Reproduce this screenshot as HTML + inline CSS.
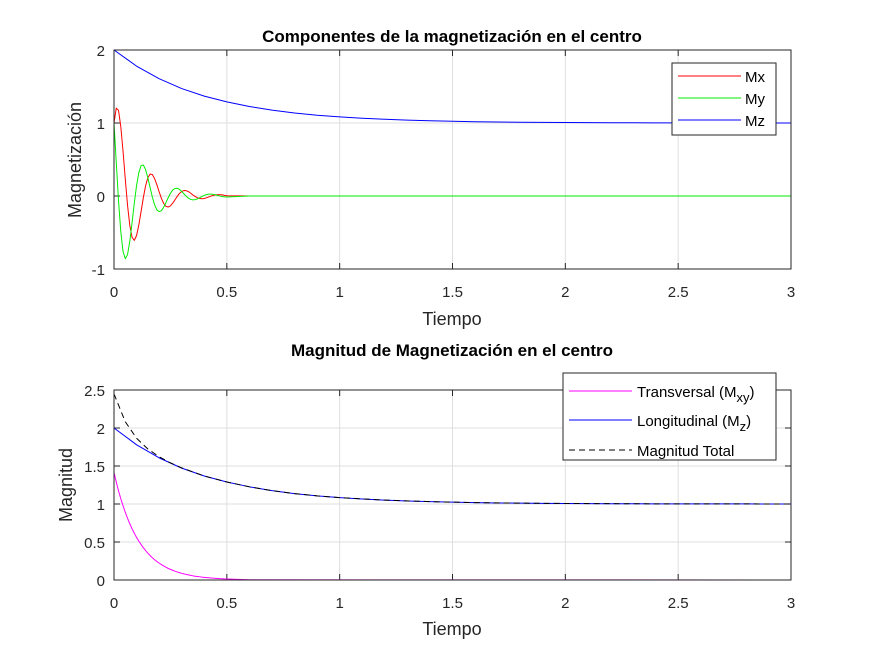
<!DOCTYPE html>
<html><head><meta charset="utf-8"><style>
body{margin:0;background:#fff;}
svg{font-family:"Liberation Sans",Arial,sans-serif;}
</style></head><body>
<svg id="fig" width="875" height="656" viewBox="0 0 875 656" xmlns="http://www.w3.org/2000/svg"></svg>
<script>
// ---- data ----
const tFine = [0,0.01,0.02,0.03,0.04,0.05,0.06,0.07,0.08,0.09,0.10,0.11,0.12,0.13,0.14,0.15,0.16,0.17,0.18,0.19,0.20,0.21,0.22,0.23,0.24,0.25,0.26,0.27,0.28,0.29,0.30,0.31,0.32,0.33,0.34,0.35,0.36,0.37,0.38,0.39,0.40,0.41,0.42,0.43,0.44,0.45,0.46,0.47,0.48,0.49,0.50,0.6,3];
const mxVals = [1.0,1.204,1.174,0.954,0.615,0.231,-0.127,-0.403,-0.566,-0.608,-0.541,-0.397,-0.212,-0.022,0.139,0.250,0.301,0.293,0.238,0.153,0.058,-0.032,-0.101,-0.141,-0.151,-0.135,-0.099,-0.053,-0.006,0.035,0.062,0.075,0.073,0.060,0.038,0.014,-0.008,-0.025,-0.035,-0.038,-0.034,-0.025,-0.013,-0.001,0.009,0.016,0.019,0.018,0.015,0.009,0.004,0,0];
const myVals = [1.0,0.462,-0.061,-0.486,-0.759,-0.860,-0.802,-0.621,-0.367,-0.096,0.145,0.321,0.415,0.425,0.361,0.250,0.115,-0.015,-0.121,-0.190,-0.214,-0.201,-0.155,-0.092,-0.024,0.036,0.081,0.103,0.106,0.091,0.062,0.029,-0.004,-0.030,-0.047,-0.053,-0.049,-0.039,-0.023,-0.006,0.009,0.020,0.026,0.026,0.022,0.016,0.007,-0.001,-0.008,-0.012,-0.014,0,0];
const mxyVals = [1.414,1.289,1.175,1.071,0.977,0.890,0.812,0.740,0.674,0.615,0.560,0.511,0.466,0.425,0.387,0.353,0.322,0.293,0.267,0.244,0.222,0.203,0.185,0.168,0.153,0.140,0.128,0.116,0.106,0.097,0.088,0.080,0.073,0.067,0.061,0.055,0.050,0.046,0.042,0.038,0.035,0.032,0.029,0.026,0.024,0.022,0.020,0.018,0.017,0.015,0.014,0.003,0];
const tMz = [0,0.1,0.2,0.3,0.4,0.5,0.6,0.7,0.8,0.9,1.0,1.1,1.2,1.3,1.4,1.5,1.6,1.7,1.8,1.9,2.0,2.2,2.4,2.6,2.8,3.0];
const mzVals = [2,1.779,1.607,1.472,1.368,1.290,1.226,1.176,1.137,1.107,1.084,1.065,1.051,1.040,1.031,1.024,1.018,1.014,1.011,1.009,1.007,1.004,1.002,1.001,1.001,1.0];
const tTot = [0,0.05,0.1,0.15,0.2,0.25,0.3,0.4,0.5,0.6,0.7,0.8,0.9,1.0,1.2,1.4,1.6,1.8,2.0,2.4,2.8,3.0];
const totVals = [2.449,2.082,1.865,1.724,1.622,1.541,1.475,1.368,1.290,1.226,1.176,1.137,1.107,1.084,1.051,1.031,1.018,1.011,1.007,1.002,1.001,1.0];
const xTicks = [0,0.5,1,1.5,2,2.5,3];
const xTickLabels = ["0","0.5","1","1.5","2","2.5","3"];
const yTicksTop = [-1,0,1,2];
const yTickLabelsTop = ["-1","0","1","2"];
const yTicksBot = [0,0.5,1,1.5,2,2.5];
const yTickLabelsBot = ["0","0.5","1","1.5","2","2.5"];

const NS="http://www.w3.org/2000/svg";
const svg=document.getElementById('fig');
function mk(tag,attrs,parent){const e=document.createElementNS(NS,tag);for(const k in attrs)e.setAttribute(k,attrs[k]);(parent||svg).appendChild(e);return e;}

function axes(box,xmin,xmax,ymin,ymax,yt,ytl,name){
  const g=mk('g',{});
  
  
  const sx=v=>box.x0+(v-xmin)/(xmax-xmin)*(box.x1-box.x0);
  const sy=v=>box.y1-(v-ymin)/(ymax-ymin)*(box.y1-box.y0);
  mk('rect',{x:box.x0,y:box.y0,width:box.x1-box.x0,height:box.y1-box.y0,fill:'#fff'},g);
  xTicks.forEach((v,i)=>{
    const x=sx(v);
    const gl=mk('line',{x1:x,x2:x,y1:box.y0,y2:box.y1,stroke:'#dfdfdf','stroke-width':1},g);
    
    
    mk('line',{x1:x,x2:x,y1:box.y1,y2:box.y1-6,stroke:'#262626'},g);
    mk('line',{x1:x,x2:x,y1:box.y0,y2:box.y0+6,stroke:'#262626'},g);
    const t=mk('text',{x:x,y:box.y1+28,'text-anchor':'middle','font-size':15,fill:'#262626'},g);
    t.textContent=xTickLabels[i];
    
    
  });
  yt.forEach((v,i)=>{
    const y=sy(v);
    const gl=mk('line',{x1:box.x0,x2:box.x1,y1:y,y2:y,stroke:'#dfdfdf','stroke-width':1},g);
    
    
    mk('line',{x1:box.x0,x2:box.x0+6,y1:y,y2:y,stroke:'#262626'},g);
    mk('line',{x1:box.x1,x2:box.x1-6,y1:y,y2:y,stroke:'#262626'},g);
    const t=mk('text',{x:box.x0-9,y:y+6,'text-anchor':'end','font-size':15,fill:'#262626'},g);
    t.textContent=ytl[i];
    
    
  });
  return {g,sx,sy};
}
function series(ax,xs,ys,color,name,dash){
  let d='';
  xs.forEach((x,i)=>{d+=(i?'L':'M')+ax.sx(x).toFixed(2)+','+ax.sy(ys[i]).toFixed(2);});
  const p=mk('path',{d:d,fill:'none',stroke:color,'stroke-width':1,'stroke-linejoin':'round'},ax.g);
  if(dash)p.setAttribute('stroke-dasharray',dash);
  
  
}
function frame(box,g){mk('rect',{x:box.x0,y:box.y0,width:box.x1-box.x0,height:box.y1-box.y0,fill:'none',stroke:'#262626','stroke-width':1},g);}
function text(x,y,s,attrs,name){const t=mk('text',Object.assign({x:x,y:y,fill:'#000'},attrs));t.textContent=s;
  
  return t;}

// ---- top ----
const b1={x0:114,x1:791,y0:50,y1:269};
const a1=axes(b1,0,3,-1,2,yTicksTop,yTickLabelsTop,'top-axes');
series(a1,tMz,mzVals,'#0000ff','mz-line');
series(a1,tFine,mxVals,'#ff0000','mx-line');
series(a1,tFine,myVals,'#00ee00','my-line');
frame(b1,a1.g);
text(452,42,'Componentes de la magnetización en el centro',{'text-anchor':'middle','font-size':17,'font-weight':'bold'},'top-title');
text(452,325,'Tiempo',{'text-anchor':'middle','font-size':18,fill:'#262626'},'top-x-axis-title');
text(0,0,'Magnetización',{'text-anchor':'middle','font-size':18,fill:'#262626',transform:'translate(81,160) rotate(-90)'},'top-y-axis-title');
// legend top
const lg1=mk('g',{});


mk('rect',{x:672,y:63,width:104,height:72,fill:'#fff',stroke:'#262626'},lg1);
[['Mx','#ff0000',80],['My','#00ee00',102],['Mz','#0000ff',124]].forEach(r=>{
  mk('line',{x1:678,x2:741,y1:r[2]-4,y2:r[2]-4,stroke:r[1]},lg1);
  const t=mk('text',{x:745,y:r[2]+2,'font-size':15,fill:'#000'},lg1);t.textContent=r[0];
  
  
});

// ---- bottom ----
const b2={x0:114,x1:791,y0:390,y1:580};
const a2=axes(b2,0,3,0,2.5,yTicksBot,yTickLabelsBot,'bottom-axes');
series(a2,tFine,mxyVals,'#ff00ff','mxy-line');
series(a2,tMz,mzVals,'#0000ff','mz-magnitude-line');
series(a2,tTot,totVals,'#000000','total-magnitude-line','6,4');
frame(b2,a2.g);
text(452,356,'Magnitud de Magnetización en el centro',{'text-anchor':'middle','font-size':17,'font-weight':'bold'},'bottom-title');
text(452,635,'Tiempo',{'text-anchor':'middle','font-size':18,fill:'#262626'},'bottom-x-axis-title');
text(0,0,'Magnitud',{'text-anchor':'middle','font-size':18,fill:'#262626',transform:'translate(72,485) rotate(-90)'},'bottom-y-axis-title');
const lg2=mk('g',{});


mk('rect',{x:563,y:373,width:213,height:87,fill:'#fff',stroke:'#262626'},lg2);
const rows=[['Transversal (M','xy',')','#ff00ff',392,''],['Longitudinal (M','z',')','#0000ff',421,''],['Magnitud Total','','','#000',451,'6,4']];
rows.forEach(r=>{
  const l=mk('line',{x1:569,x2:632,y1:r[4]-1,y2:r[4]-1,stroke:r[3]},lg2);
  if(r[5])l.setAttribute('stroke-dasharray',r[5]);
  const t=mk('text',{x:637,y:r[4]+5,'font-size':15,fill:'#000'},lg2);
  
  
  t.appendChild(document.createTextNode(r[0]));
  if(r[1]){const s=mk('tspan',{dy:5,'font-size':13},t);s.textContent=r[1];
    const s2=mk('tspan',{dy:-5},t);s2.textContent=r[2];}
});
</script>
</body></html>
